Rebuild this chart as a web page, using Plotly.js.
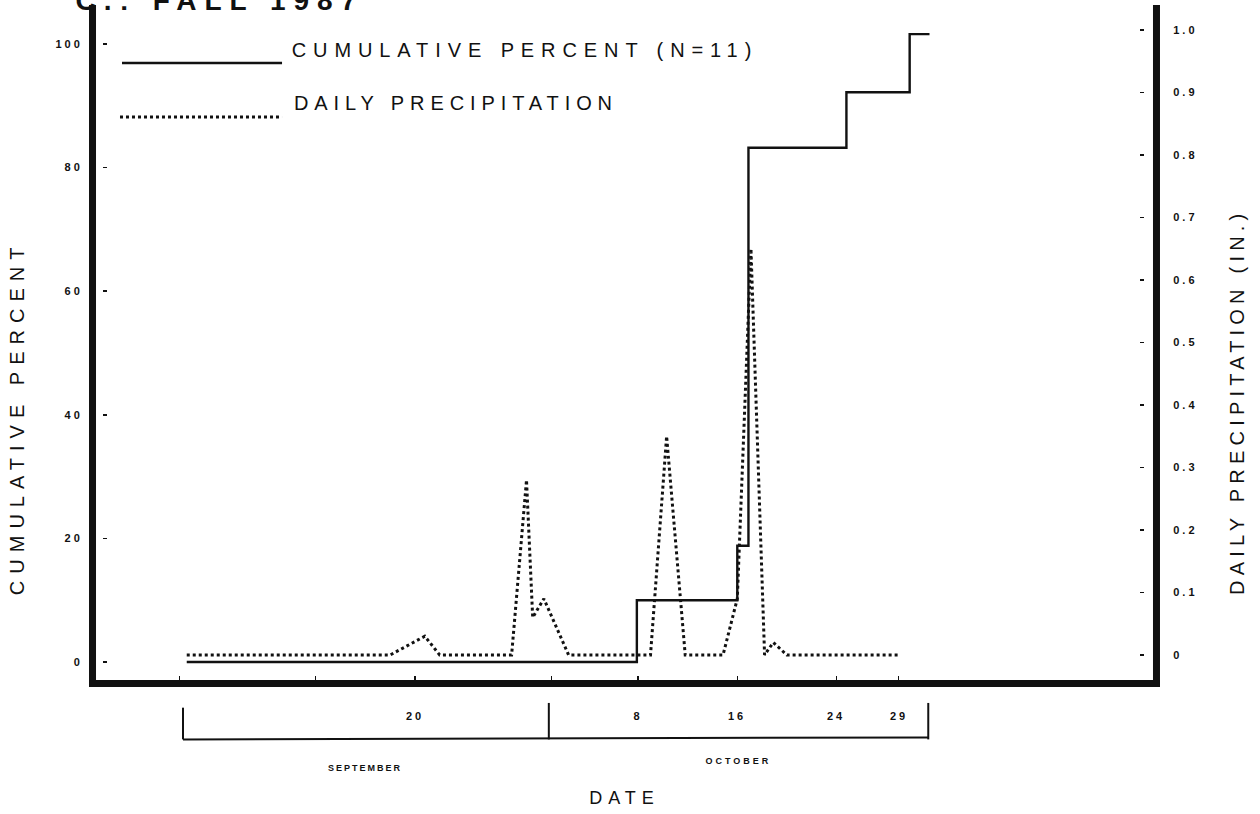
<!DOCTYPE html>
<html>
<head>
<meta charset="utf-8">
<script src="https://cdn.plot.ly/plotly-3.0.1.min.js"></script>
<style>
  html, body { margin: 0; padding: 0; background: #ffffff; }
  #chart { width: 1260px; height: 814px; }
  .xtitle { letter-spacing: 6px; }
  .gtitle { letter-spacing: 8px; }
  .ytick text, .y2tick text { letter-spacing: 3px; }
</style>
</head>
<body>
<div id="chart"></div>
<script>
// ---- data (day index: 1 = 1 September) ----
const cumDay = [1.6, 37.9, 46.0, 46.9, 54.8, 59.9, 61.5];
const cumPct = [0, 10.0, 18.8, 83.2, 92.2, 101.6, 101.6];

const precDay = [1.6, 18.0, 20.8, 22.0, 27.8, 29.0, 29.5, 30.4, 32.4, 39.0, 40.3, 41.8, 44.85, 46.0, 47.1, 48.2, 48.9, 50.0, 59.1];
const precIn  = [0, 0, 0.03, 0, 0, 0.28, 0.06, 0.09, 0, 0, 0.35, 0, 0, 0.09, 0.65, 0, 0.02, 0, 0];

const cumTickVals = [0, 20, 40, 60, 80, 100];
const cumTickText = ['0', '20', '40', '60', '80', '100'];
const precTickVals = [0, 0.1, 0.2, 0.3, 0.4, 0.5, 0.6, 0.7, 0.8, 0.9, 1.0];
const precTickText = ['0', '0.1', '0.2', '0.3', '0.4', '0.5', '0.6', '0.7', '0.8', '0.9', '1.0'];

const dateTickDays = [1, 12, 20, 31, 38, 46, 54, 59];
const dateLabelDays = [20, 38, 46, 54, 59];
const dateLabelText = ['20', '8', '16', '24', '29'];
const monthNames = ['SEPTEMBER', 'OCTOBER'];
const monthBounds = [1.3, 30.8, 61.4];

const seriesNames = ['CUMULATIVE PERCENT (N=11)', 'DAILY PRECIPITATION'];
const axisTitles = ['CUMULATIVE PERCENT', 'DAILY PRECIPITATION (IN.)', 'DATE'];
const chartTitle = 'C.: FALL 1987';

// ---- styling ----
const FONT = 'Liberation Sans, Arial, Helvetica, sans-serif';
const INK = '#111111';
const DOTS = '3px,3px';

const traces = [
  {
    x: cumDay, y: cumPct, name: seriesNames[0], type: 'scatter', mode: 'lines',
    line: { shape: 'hv', color: INK, width: 2.4 },
    xaxis: 'x', yaxis: 'y', hoverinfo: 'skip'
  },
  {
    x: precDay, y: precIn, name: seriesNames[1], type: 'scatter', mode: 'lines',
    line: { color: INK, width: 3, dash: DOTS },
    xaxis: 'x', yaxis: 'y2', hoverinfo: 'skip'
  }
];

const xRange = [-5.718, 79.524];
const yRange = [-2.913, 106.31];
const y2Range = [-0.04, 1.04];

const shapes = [];
// heavy frame (left, right, bottom)
const frame = { color: INK, width: 7 };
shapes.push({ type: 'line', xref: 'paper', yref: 'paper', x0: -0.0033, x1: -0.0033, y0: 1.0, y1: -0.0104, line: frame });
shapes.push({ type: 'line', xref: 'paper', yref: 'paper', x0: 1.0033, x1: 1.0033, y0: 1.0, y1: -0.0104, line: frame });
shapes.push({ type: 'line', xref: 'paper', yref: 'paper', x0: -0.0066, x1: 1.0066, y0: -0.0052, y1: -0.0052, line: frame });
// legend samples
shapes.push({ type: 'line', xref: 'paper', yref: 'paper', x0: 0.0246, x1: 0.176, y0: 0.914, y1: 0.914,
  line: { color: INK, width: 2.4 } });
shapes.push({ type: 'line', xref: 'paper', yref: 'paper', x0: 0.0227, x1: 0.176, y0: 0.834, y1: 0.834,
  line: { color: INK, width: 3, dash: DOTS } });
// month bracket under the axis
monthBounds.forEach((d, i) => {
  shapes.push({ type: 'line', xref: 'x', yref: 'paper', x0: d, x1: d,
    y0: i === 0 ? -0.041 : -0.034, y1: -0.088, line: { color: INK, width: 2 } });
});
shapes.push({ type: 'line', xref: 'x', yref: 'paper', x0: monthBounds[0], x1: monthBounds[monthBounds.length - 1],
  y0: -0.088, y1: -0.085, line: { color: INK, width: 2 } });

const annotations = [];
const annSpacing = [];
// legend texts
annotations.push({ text: seriesNames[0], xref: 'paper', yref: 'paper', x: 0.4055, y: 0.933,
  xanchor: 'center', yanchor: 'middle', showarrow: false, font: { family: FONT, size: 20, color: INK } });
annSpacing.push(6.9);
annotations.push({ text: seriesNames[1], xref: 'paper', yref: 'paper', x: 0.341, y: 0.855,
  xanchor: 'center', yanchor: 'middle', showarrow: false, font: { family: FONT, size: 20, color: INK } });
annSpacing.push(5.9);
// vertical axis titles
annotations.push({ text: axisTitles[0], xref: 'paper', yref: 'paper', x: -0.0747, y: 0.388, textangle: -90,
  xanchor: 'center', yanchor: 'middle', showarrow: false, font: { family: FONT, size: 20, color: INK } });
annSpacing.push(7);
annotations.push({ text: axisTitles[1], xref: 'paper', yref: 'paper', x: 1.0795, y: 0.412, textangle: -90,
  xanchor: 'center', yanchor: 'middle', showarrow: false, font: { family: FONT, size: 20, color: INK } });
annSpacing.push(5.2);
// day labels in the bracket
dateLabelDays.forEach((d, i) => {
  annotations.push({ text: dateLabelText[i], xref: 'x', yref: 'paper', x: d, y: -0.053,
    xanchor: 'center', yanchor: 'middle', showarrow: false,
    font: { family: FONT, size: 11, color: INK, weight: 'bold' } });
  annSpacing.push(3);
});
monthNames.forEach((m, i) => {
  annotations.push({ text: m, xref: 'x', yref: 'paper',
    x: (monthBounds[i] + monthBounds[i + 1]) / 2, y: i === 0 ? -0.13 : -0.12,
    xanchor: 'center', yanchor: 'middle', showarrow: false,
    font: { family: FONT, size: 9, color: INK, weight: 'bold' } });
  annSpacing.push(i === 0 ? 2 : 3);
});

const layout = {
  width: 1260, height: 814,
  paper_bgcolor: '#ffffff', plot_bgcolor: '#ffffff',
  margin: { l: 96, r: 107, t: 5, b: 134, pad: 0 },
  showlegend: false,
  title: { text: chartTitle, xref: 'container', yref: 'container', x: 0.06, xanchor: 'left',
    y: 1, yanchor: 'middle', font: { family: FONT, size: 28, color: INK, weight: 'bold' } },
  xaxis: {
    range: xRange, anchor: 'free', position: 0.0074, side: 'bottom',
    tickmode: 'array', tickvals: dateTickDays, ticks: 'outside', ticklen: 4, tickwidth: 1.5, tickcolor: INK,
    showticklabels: false, showline: false, showgrid: false, zeroline: false, automargin: false,
    title: { text: axisTitles[2], standoff: 112, font: { family: FONT, size: 18, color: INK } }
  },
  yaxis: {
    range: yRange, anchor: 'free', position: 0.0104, side: 'left',
    tickmode: 'array', tickvals: cumTickVals, ticktext: cumTickText,
    ticks: 'outside', ticklen: 4, tickwidth: 1.5, tickcolor: INK, ticklabelstandoff: 18,
    tickfont: { family: FONT, size: 11, color: INK, weight: 'bold' },
    showline: false, showgrid: false, zeroline: false, automargin: false
  },
  yaxis2: {
    overlaying: 'y', anchor: 'free', position: 0.9868, side: 'right', range: y2Range,
    tickmode: 'array', tickvals: precTickVals, ticktext: precTickText,
    ticks: 'outside', ticklen: 4, tickwidth: 1.5, tickcolor: INK, ticklabelstandoff: 27,
    tickfont: { family: FONT, size: 11, color: INK, weight: 'bold' },
    showline: false, showgrid: false, zeroline: false, automargin: false
  },
  shapes: shapes,
  annotations: annotations
};

Plotly.newPlot('chart', traces, layout, { staticPlot: true, displayModeBar: false }).then(gd => {
  gd.querySelectorAll('g.annotation').forEach(g => {
    const i = +g.getAttribute('data-index');
    const t = g.querySelector('text');
    if (t && annSpacing[i]) t.style.letterSpacing = annSpacing[i] + 'px';
  });
});
</script>
</body>
</html>
